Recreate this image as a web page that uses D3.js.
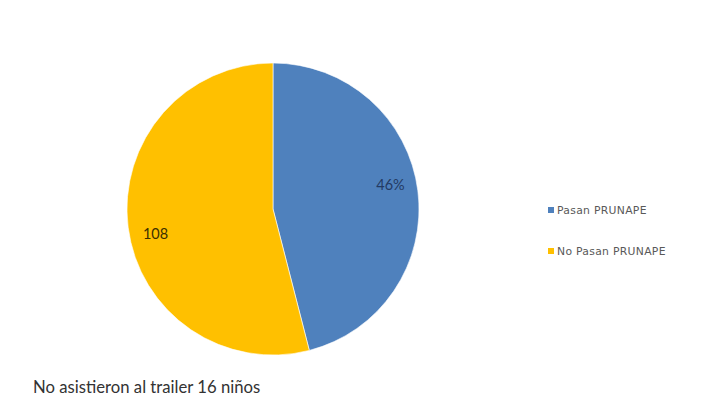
<!DOCTYPE html>
<html>
<head>
<meta charset="utf-8">
<script src="https://cdn.jsdelivr.net/npm/d3@7"></script>
<style>
  html, body { margin: 0; padding: 0; background: #fff; }
  svg { display: block; }
</style>
</head>
<body>
<svg id="chart" width="705" height="416"></svg>
<script>
// Categories and counts
const categories = ["Pasan PRUNAPE", "No Pasan PRUNAPE"];
const values = [92, 108];
const colors = ["#4F81BD", "#FFC000"];
// How each slice's data label is shown
const labelModes = ["percent", "value"];
const labelColors = ["#233a63", "#3d3000"];
const note = "No asistieron al trailer 16 niños";

const svg = d3.select("#chart");
const cx = 273, cy = 209, R = 146;

const total = d3.sum(values);
const pie = d3.pie().sort(null).value(d => d.value);
const data = categories.map((c, i) => ({ name: c, value: values[i], i }));
const arcs = pie(data);

const arc = d3.arc().innerRadius(0).outerRadius(R);

// Labels sit a little before each slice's mid-angle, at ~82% of the radius
const labelR = 120, labelShift = -0.08;
function labelPos(d) {
  const a = (d.startAngle + d.endAngle) / 2 + labelShift;
  return [labelR * Math.sin(a), -labelR * Math.cos(a)];
}

const g = svg.append("g").attr("transform", `translate(${cx},${cy})`);

g.selectAll("path.slice")
  .data(arcs)
  .join("path")
  .attr("class", "slice")
  .attr("d", arc)
  .attr("fill", d => colors[d.data.i])
  .attr("stroke", "#ffffff")
  .attr("stroke-width", 0.6);

const pct = d3.format(".0%");
g.selectAll("text.lbl")
  .data(arcs)
  .join("text")
  .attr("class", "lbl")
  .attr("transform", d => `translate(${labelPos(d)})`)
  .attr("text-anchor", "middle")
  .attr("dominant-baseline", "central")
  .attr("font-family", "Lato, 'Open Sans', sans-serif")
  .attr("font-size", 14.5)
  .attr("fill", d => labelColors[d.data.i])
  .text(d => labelModes[d.data.i] === "percent"
    ? pct(d.data.value / total)
    : d.data.value);

// Legend
const legend = svg.append("g").attr("transform", "translate(548,0)");
const legendY = [210, 251];
categories.forEach((c, i) => {
  const row = legend.append("g").attr("transform", `translate(0,${legendY[i]})`);
  row.append("rect")
    .attr("x", 0).attr("y", -3)
    .attr("width", 6).attr("height", 6)
    .attr("fill", colors[i]);
  row.append("text")
    .attr("x", 9).attr("y", 0)
    .attr("dominant-baseline", "central")
    .attr("font-family", "'DejaVu Sans', sans-serif")
    .attr("font-size", 10.8)
    .attr("letter-spacing", 0.3)
    .attr("fill", "#595959")
    .text(c);
});

// Footnote
svg.append("text")
  .attr("x", 33).attr("y", 393)
  .attr("font-family", "Lato, 'Open Sans', sans-serif")
  .attr("font-size", 16.7)
  .attr("fill", "#333333")
  .text(note);
</script>
</body>
</html>
